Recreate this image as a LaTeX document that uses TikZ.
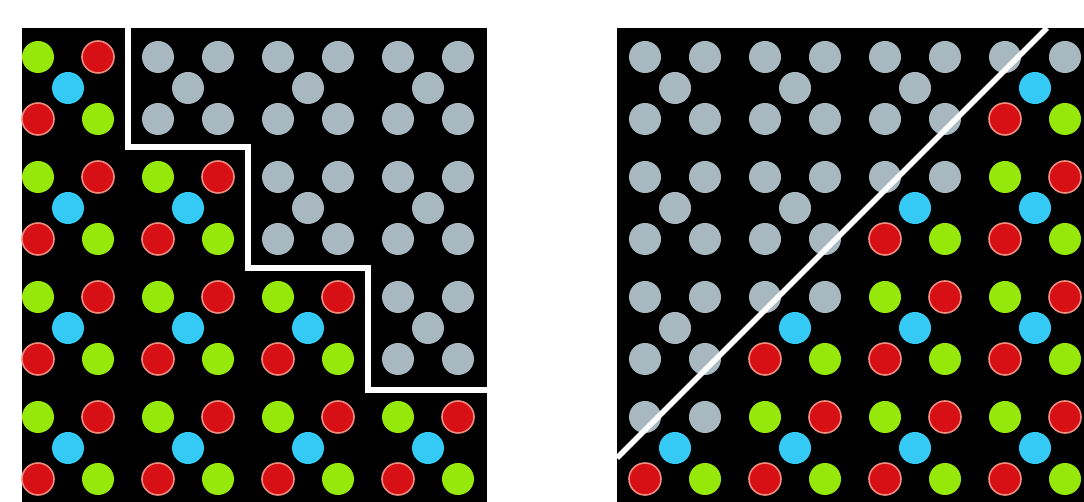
\documentclass[tikz,border=0pt]{standalone}
\definecolor{dotgreen}{RGB}{150,232,10}
\definecolor{dotred}{RGB}{214,16,20}
\definecolor{dotredrim}{RGB}{240,140,125}
\definecolor{dotcyan}{RGB}{52,202,245}
\definecolor{dotgray}{RGB}{168,184,192}
\tikzset{
  lime/.style={fill=dotgreen},
  rdot/.style={fill=dotred, draw=dotredrim, line width=0.8pt},
  cdot/.style={fill=dotcyan},
  gdot/.style={fill=dotgray},
  panel/.style={fill=black},
  wline/.style={draw=white, line width=2.8pt},
}
\newcommand\dotcell[7]{%
  \begin{scope}[shift={(#1,#2)}]
    \path[#3] (0,0) circle[radius=8pt];
    \path[#4] (60,0) circle[radius=8pt];
    \path[#5] (30,31) circle[radius=8pt];
    \path[#6] (0,62) circle[radius=8pt];
    \path[#7] (60,62) circle[radius=8pt];
  \end{scope}}
\begin{document}
\begin{tikzpicture}[x=0.5pt,y=-0.5pt]
\useasboundingbox (0,0) rectangle (1084,502);
\fill[white] (0,0) rectangle (1084,502);
% panels
\path[panel] (22,28) rectangle (487,502);
\path[panel] (617,28) rectangle (1084,502);
% left panel dots
\foreach \c in {0,1,2,3}{
  \foreach \r in {0,1,2,3}{
    \pgfmathtruncatemacro\xa{38+120*\c}
    \pgfmathtruncatemacro\ya{57+120*\r}
    \ifnum\c>\r
      \dotcell{\xa}{\ya}{gdot}{gdot}{gdot}{gdot}{gdot}
    \else
      \dotcell{\xa}{\ya}{lime}{rdot}{cdot}{rdot}{lime}
    \fi
  }}
% right panel dots
\foreach \c in {0,1,2,3}{
  \foreach \r in {0,1,2,3}{
    \pgfmathtruncatemacro\xa{645+120*\c}
    \pgfmathtruncatemacro\ya{57+120*\r}
    \pgfmathtruncatemacro\k{\c+\r}
    \ifnum\k<3
      \dotcell{\xa}{\ya}{gdot}{gdot}{gdot}{gdot}{gdot}
    \else\ifnum\k=3
      \dotcell{\xa}{\ya}{gdot}{gdot}{cdot}{rdot}{lime}
    \else
      \dotcell{\xa}{\ya}{lime}{rdot}{cdot}{rdot}{lime}
    \fi\fi
  }}
% boundary lines
\coordinate (s0) at (128,27);
\coordinate (s1) at (128,147);
\coordinate (s2) at (248,147);
\coordinate (s3) at (248,268);
\coordinate (s4) at (368,268);
\coordinate (s5) at (368,390);
\coordinate (s6) at (487,390);
\draw[wline, line join=miter] (s0) -- (s1) -- (s2) -- (s3) -- (s4) -- (s5) -- (s6);
\coordinate (d0) at (617,458);
\coordinate (d1) at (1047,28);
\draw[wline] (d0) -- (d1);
\end{tikzpicture}
\end{document}
